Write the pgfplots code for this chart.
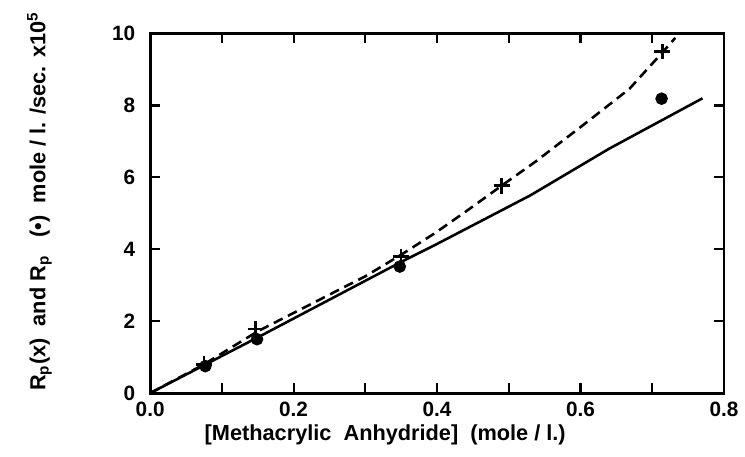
\documentclass[border=0pt]{standalone}
\usepackage{pgfplots}
\pgfplotsset{compat=1.18}
\usepackage{fontspec}
\setmainfont{Liberation Sans}
\begin{document}
\begin{tikzpicture}[font=\bfseries]
\begin{axis}[
    scale only axis,
    width=290.5pt, height=182pt,
    xmin=0, xmax=0.8, ymin=0, ymax=10,
    xtick={0,0.2,0.4,0.6,0.8},
    minor xtick={0.1,0.3,0.5,0.7},
    ytick={0,2,4,6,8,10},
    tick align=inside,
    major tick length=5pt, minor tick length=5pt,
    every axis/.append style={line width=1.5pt},
    tick style={black, line width=1.1pt},
    /pgf/number format/assume math mode=true,
    tick label style={font=\fontsize{10.5}{12}\selectfont\bfseries},
    x tick label style={/pgf/number format/fixed, /pgf/number format/fixed zerofill, /pgf/number format/precision=1, yshift=-0.5pt},
    y tick label style={xshift=-3.5pt},
]
% solid line: Rp fit
\addplot[black, line width=1.3pt] coordinates {
    (0,0) (0.15,1.55) (0.35,3.65) (0.4,4.15) (0.53,5.5) (0.64,6.8) (0.77,8.2)
};
% dashed curve through crosses
\addplot[black, line width=1.3pt, dash pattern=on 5pt off 3pt] coordinates {
    (0,0) (0.075,0.8) (0.15,1.72) (0.3,3.25) (0.35,3.85) (0.397,4.45) (0.44,5.05) (0.49,5.77) (0.538,6.45) (0.6,7.4) (0.668,8.46) (0.713,9.45) (0.732,9.88)
};
% crosses: Rp(x)
\addplot[only marks, mark=+, mark size=4pt, line width=1.3pt, black] coordinates {
    (0.075,0.8) (0.147,1.78) (0.35,3.8) (0.49,5.77) (0.714,9.5)
};
% dots: Rp
\addplot[only marks, mark=*, mark size=2.4pt, black] coordinates {
    (0.077,0.75) (0.149,1.5) (0.348,3.52) (0.713,8.19)
};
\end{axis}
% axis labels, placed relative to the axis box at (0,0)
\node[font=\fontsize{11}{13}\selectfont\bfseries] at (119pt,-21pt)
    {[Methacrylic\ \ Anhydride]\ \ (mole / l.)};
\node[rotate=90, font=\fontsize{11}{13}\selectfont\bfseries] at (-56pt,97pt)
    {R\textsubscript{p}(x)\ \ and R\textsubscript{p}\ \ \ (\textbullet)\ \ mole / l. /sec. x10\textsuperscript{5}};
% invisible frame giving the page its proportions
\path (-76pt,-32pt) rectangle (298pt,199pt);
\end{tikzpicture}
\end{document}
